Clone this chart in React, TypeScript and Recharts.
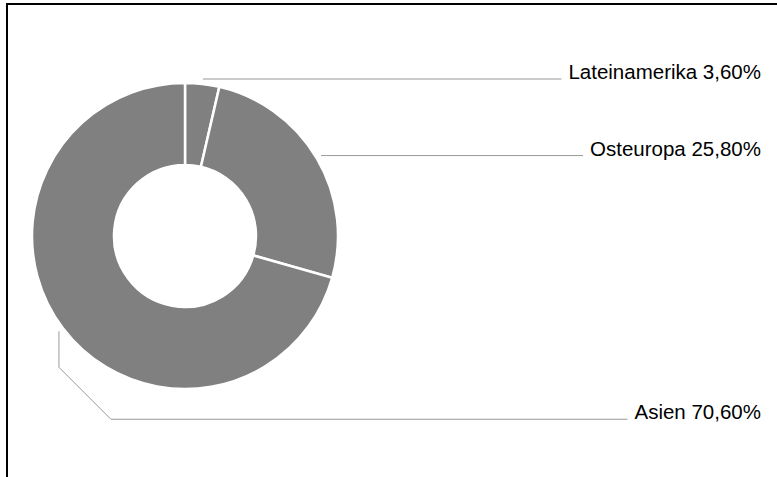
import { PieChart, Pie, Cell } from "recharts";

const regions = ["Lateinamerika", "Osteuropa", "Asien"];
const shares = [3.6, 25.8, 70.6];

const data = regions.map((name, i) => ({ name, value: shares[i] }));

const SLICE = "#808080";
const LINE = "#999";
const FONT = "'Liberation Sans', Arial, Helvetica, sans-serif";
const FONT_SIZE = 20.5;
const TEXT_RIGHT = 761;
const RAD = Math.PI / 180;

let ctx: CanvasRenderingContext2D | null = null;
const textWidth = (s: string) => {
  if (!ctx) ctx = document.createElement("canvas").getContext("2d");
  if (!ctx) return s.length * 10;
  ctx.font = `${FONT_SIZE}px ${FONT}`;
  return ctx.measureText(s).width;
};

const fmt = (v: number) => `${v.toFixed(2).replace(".", ",")}%`;

// leader line + text, right aligned
const renderLabel = ({ cx, cy, midAngle, outerRadius, name, value }: any) => {
  const r = outerRadius + 5;
  const sx = cx + r * Math.cos(-midAngle * RAD);
  const sy = cy + r * Math.sin(-midAngle * RAD);
  const text = `${name} ${fmt(value)}`;
  const endX = TEXT_RIGHT - textWidth(text) - 7;

  let points: string;
  let ty = sy;
  if (sx >= cx) {
    points = `${sx},${sy} ${endX},${sy}`;
  } else {
    // left side: drop down, angle off, then run across
    const y1 = sy + 36;
    ty = sy + 88;
    const x2 = sx + (ty - y1);
    points = `${sx},${sy} ${sx},${y1} ${x2},${ty} ${endX},${ty}`;
  }

  return (
    <g>
      <polyline points={points} fill="none" stroke={LINE} strokeWidth={1} />
      <text
        x={TEXT_RIGHT}
        y={ty}
        textAnchor="end"
        fill="#000"
        fontSize={FONT_SIZE}
        fontFamily={FONT}
      >
        {text}
      </text>
    </g>
  );
};

export default function App() {
  return (
    <div
      style={{
        position: "absolute",
        left: 0,
        top: 0,
        width: 777,
        height: 477,
        overflow: "hidden",
        background: "#fff",
      }}
    >
      <div
        style={{
          position: "absolute",
          left: 6,
          top: 3,
          width: 820,
          height: 520,
          borderLeft: "2px solid #000",
          borderTop: "2px solid #000",
        }}
      />
      <div style={{ position: "absolute", left: 0, top: 0 }}>
        <PieChart
          width={777}
          height={477}
          margin={{ top: 0, right: 0, bottom: 0, left: 0 }}
        >
          <Pie
            data={data}
            dataKey="value"
            nameKey="name"
            cx={185}
            cy={236}
            innerRadius={71}
            outerRadius={153}
            startAngle={90}
            endAngle={-270}
            stroke="#fff"
            strokeWidth={2.5}
            label={renderLabel}
            labelLine={false}
            isAnimationActive={false}
          >
            {data.map((d) => (
              <Cell key={d.name} fill={SLICE} />
            ))}
          </Pie>
        </PieChart>
      </div>
    </div>
  );
}
